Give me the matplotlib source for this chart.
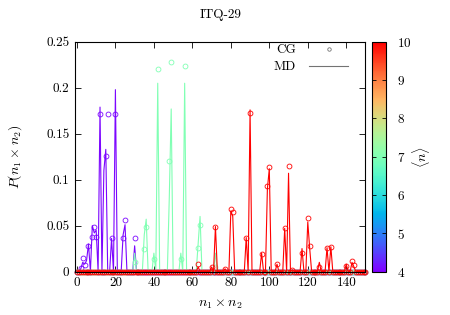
import matplotlib
matplotlib.use('Agg')
import matplotlib.pyplot as plt
import numpy as np
from matplotlib import cm
from matplotlib.colors import Normalize
from matplotlib.ticker import FixedLocator, FixedFormatter

plt.rcParams['font.family'] = 'cmr10'
plt.rcParams['mathtext.fontset'] = 'cm'
plt.rcParams['axes.formatter.use_mathtext'] = True
plt.rcParams['font.size'] = 9

# products n1 x n2 with non-zero probability, per mean pore size <n>
n4_x = [2, 3, 4, 5, 6, 8, 9, 10, 12, 14, 15, 16, 18, 20, 24, 25, 30]
n4_cg = [0.004, 0.015, 0.007, 0.0, 0.028, 0.038, 0.048, 0.038, 0.171, 0.0, 0.126, 0.171, 0.036, 0.171, 0.037, 0.056, 0.037]
n4_md = [0.003, 0.010, 0.008, 0.012, 0.030, 0.050, 0.042, 0.045, 0.179, 0.110, 0.133, 0.0, 0.036, 0.198, 0.040, 0.051, 0.028]

n7_x = [30, 35, 36, 40, 42, 48, 49, 54, 56, 63, 64, 72]
n7_cg = [0.010, 0.025, 0.049, 0.014, 0.221, 0.120, 0.228, 0.014, 0.224, 0.026, 0.051, 0.005]
n7_md = [0.020, 0.040, 0.057, 0.020, 0.205, 0.080, 0.177, 0.020, 0.205, 0.030, 0.060, 0.020]

n10_x = [63, 70, 72, 77, 80, 81, 88, 90, 96, 99, 100, 104, 108, 110, 112, 117, 120, 121, 126, 130, 132, 140, 143, 144]
n10_cg = [0.008, 0.005, 0.049, 0.003, 0.068, 0.065, 0.037, 0.173, 0.019, 0.093, 0.114, 0.008, 0.047, 0.115, 0.002, 0.020, 0.058, 0.028, 0.005, 0.026, 0.027, 0.006, 0.012, 0.007]
n10_md = [0.005, 0.005, 0.049, 0.003, 0.066, 0.060, 0.037, 0.176, 0.020, 0.090, 0.112, 0.008, 0.047, 0.107, 0.002, 0.025, 0.054, 0.025, 0.010, 0.026, 0.027, 0.008, 0.010, 0.005]

mean_n = [4.05, 7.0, 10.0]
groups = [(n4_x, n4_cg, n4_md), (n7_x, n7_cg, n7_md), (n10_x, n10_cg, n10_md)]

x_all = np.arange(0, 151)
norm = Normalize(vmin=4, vmax=10)
cmap = cm.rainbow

fig = plt.figure(figsize=(4.5, 3.15), dpi=100)
ax = fig.add_axes([0.1667, 0.138, 0.6455, 0.729])

for n, (xs, cg, md) in zip(mean_n, groups):
    c = cmap(norm(n))
    cg_full = np.zeros(len(x_all))
    md_full = np.zeros(len(x_all))
    cg_full[xs] = cg
    md_full[xs] = md
    ax.plot(x_all, md_full, '-', color=c, lw=0.8, clip_on=False)
    ax.plot(x_all, cg_full, 'o', mfc='none', mec=c, ms=3.5, mew=0.6, clip_on=False)

# legend samples
h_cg, = ax.plot([], [], 'o', mfc='none', mec='0.45', ms=2.5, mew=0.6)
h_md, = ax.plot([], [], '-', color='0.45', lw=0.8)
ax.legend([h_cg, h_md], ['CG', 'MD'], loc='upper right', frameon=False,
          markerfirst=False, handlelength=2.95, handletextpad=1.0,
          borderpad=0, borderaxespad=0, labelspacing=0.35, fontsize=9.5,
          bbox_to_anchor=(0.94, 0.99))

ax.set_xlim(-1, 150)
ax.set_ylim(0, 0.25)
ax.xaxis.set_major_locator(FixedLocator([0, 20, 40, 60, 80, 100, 120, 140]))
ax.yaxis.set_major_locator(FixedLocator([0, 0.05, 0.1, 0.15, 0.2, 0.25]))
ax.yaxis.set_major_formatter(FixedFormatter(['0', '0.05', '0.1', '0.15', '0.2', '0.25']))
ax.xaxis.set_major_formatter(FixedFormatter(['0', '20', '40', '60', '80', '100', '120', '140']))
ax.tick_params(direction='in', top=True, right=True, length=4, width=0.6, labelsize=9.5, pad=4)
for s in ax.spines.values():
    s.set_linewidth(0.8)

ax.set_xlabel(r'$n_1 \times n_2$', fontsize=10, labelpad=6)
ax.set_ylabel(r'$P(n_1 \times n_2)$', fontsize=10, labelpad=16)
ax.set_title('ITQ-29', fontsize=9.5, pad=17)

cax = fig.add_axes([0.8267, 0.138, 0.031, 0.729])
sm = cm.ScalarMappable(norm=norm, cmap=cmap)
cb = fig.colorbar(sm, cax=cax, ticks=[4, 5, 6, 7, 8, 9, 10])
cb.ax.tick_params(direction='in', left=True, right=True, length=3, width=0.6, labelsize=9.5, pad=8)
cb.outline.set_linewidth(0.8)
cb.set_label(r'$\langle n \rangle$', fontsize=10, labelpad=-1, rotation=90)

fig.savefig('out.png', dpi=100)
